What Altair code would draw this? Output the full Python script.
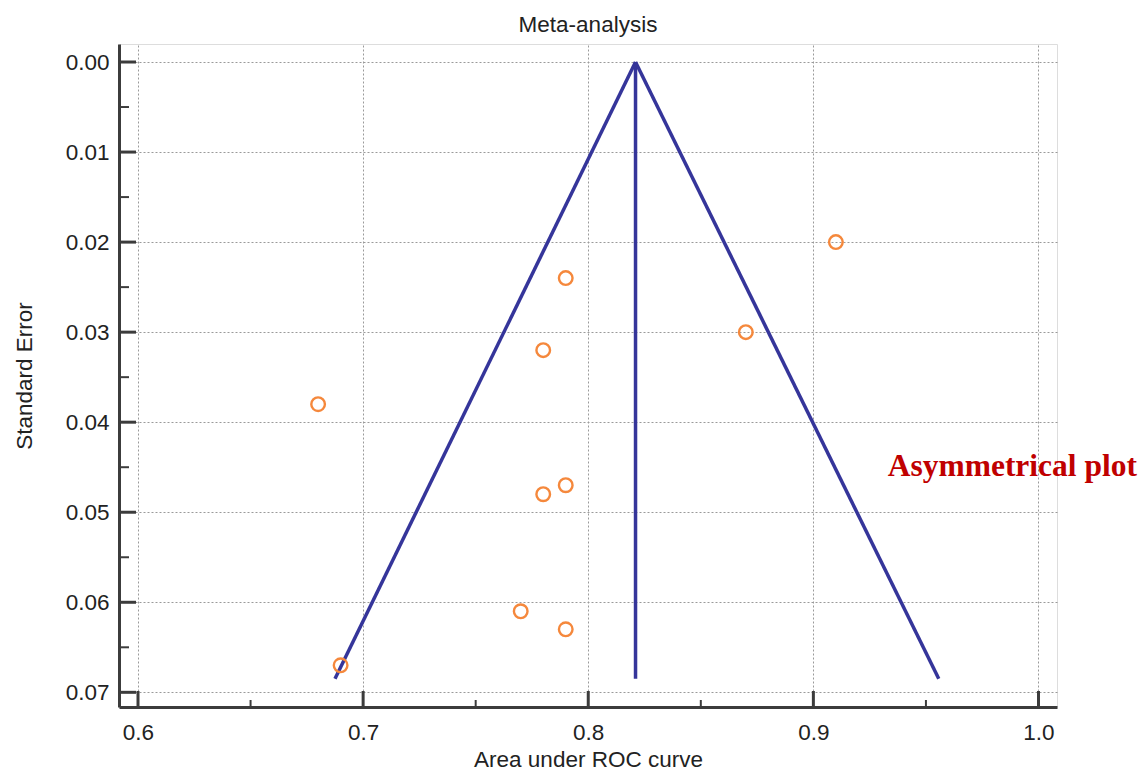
import altair as alt
import pandas as pd

# ---- data ----
auc = [0.91, 0.79, 0.87, 0.78, 0.68, 0.79, 0.78, 0.77, 0.79, 0.69]
se = [0.020, 0.024, 0.030, 0.032, 0.038, 0.047, 0.048, 0.061, 0.063, 0.067]

funnel_center = 0.821
funnel_bottom_se = 0.0685
funnel_ends = [0.6875, 0.821, 0.9557]

x_major = [0.6, 0.7, 0.8, 0.9, 1.0]
x_minor = [0.65, 0.75, 0.85, 0.95]
y_major = [0.00, 0.01, 0.02, 0.03, 0.04, 0.05, 0.06, 0.07]
y_minor = [0.005, 0.015, 0.025, 0.035, 0.045, 0.055, 0.065]

note_text = ["Asymmetrical plot"]
note_x = [0.933]
note_y = [0.046]

W, H = 938, 663
FONT = "Liberation Sans"
AXC = "#3c3c3c"

xs = alt.Scale(domain=[0.59156, 1.00822], nice=False, zero=False)
ys = alt.Scale(domain=[-0.002, 0.07163], nice=False, zero=False, reverse=True)

xaxis = alt.Axis(values=x_major, format=".1f", title="Area under ROC curve",
                 domain=True, domainColor=AXC, domainWidth=3,
                 ticks=False, tickSize=0, labelPadding=14, labelFlush=False,
                 labelFontSize=22.5, labelFont=FONT, labelColor="#222",
                 grid=True, gridColor="#9a9a9a", gridDash=[2, 2], gridWidth=1,
                 titleFont=FONT, titleFontSize=22.5, titleFontWeight="normal",
                 titleColor="#222", titlePadding=5)
yaxis = alt.Axis(values=y_major, format=".2f", title="Standard Error",
                 domain=True, domainColor=AXC, domainWidth=3,
                 ticks=False, tickSize=0, labelPadding=10,
                 labelFontSize=22.5, labelFont=FONT, labelColor="#222",
                 grid=True, gridColor="#9a9a9a", gridDash=[2, 2], gridWidth=1,
                 titleFont=FONT, titleFontSize=22.5, titleFontWeight="normal",
                 titleColor="#222", titlePadding=29)

pts = pd.DataFrame({"auc": auc, "se": se})
fun = pd.DataFrame({"x0": [funnel_center] * 3, "y0": [0.0] * 3,
                    "x1": funnel_ends, "y1": [funnel_bottom_se] * 3})

base_points = alt.Chart(pts).mark_point(
    shape="circle", filled=False, size=185, strokeWidth=2.4, color="#f5883c", opacity=1
).encode(x=alt.X("auc:Q", scale=xs, axis=xaxis), y=alt.Y("se:Q", scale=ys, axis=yaxis))

funnel = alt.Chart(fun).mark_rule(color="#35359a", strokeWidth=3.5).encode(
    x=alt.X("x0:Q", scale=xs, axis=xaxis), y=alt.Y("y0:Q", scale=ys, axis=yaxis),
    x2="x1:Q", y2="y1:Q")

xmaj = alt.Chart(pd.DataFrame({"v": x_major})).mark_rule(color=AXC, strokeWidth=3).encode(
    x=alt.X("v:Q", scale=xs, axis=xaxis), y=alt.value(H), y2=alt.value(H - 16))
xmin = alt.Chart(pd.DataFrame({"v": x_minor})).mark_rule(color=AXC, strokeWidth=2).encode(
    x=alt.X("v:Q", scale=xs, axis=xaxis), y=alt.value(H), y2=alt.value(H - 7))
ymaj = alt.Chart(pd.DataFrame({"v": y_major})).mark_rule(color=AXC, strokeWidth=3).encode(
    y=alt.Y("v:Q", scale=ys, axis=yaxis), x=alt.value(0), x2=alt.value(17))
ymin = alt.Chart(pd.DataFrame({"v": y_minor})).mark_rule(color=AXC, strokeWidth=2).encode(
    y=alt.Y("v:Q", scale=ys, axis=yaxis), x=alt.value(0), x2=alt.value(10))

note = alt.Chart(pd.DataFrame({"t": note_text, "x": note_x, "y": note_y})).mark_text(
    align="left", baseline="alphabetic", font="Liberation Serif", fontWeight="bold",
    fontSize=31.5, color="#c00000").encode(
    x=alt.X("x:Q", scale=xs, axis=xaxis), y=alt.Y("y:Q", scale=ys, axis=yaxis), text="t:N")

chart = alt.layer(funnel, base_points, xmaj, xmin, ymaj, ymin, note).properties(
    width=W, height=H,
    title=alt.TitleParams("Meta-analysis", fontSize=22.5, font=FONT, fontWeight="normal",
                          color="#222", anchor="middle", baseline="alphabetic",
                          frame="group", offset=13, dy=23),
    autosize=alt.AutoSizeParams(type="none"),
    padding={"left": 111, "top": 36, "right": 81, "bottom": 64},
).configure_view(stroke=None).configure(background="white")

chart.save("out.html", embed_options={"renderer": "svg", "actions": False})
